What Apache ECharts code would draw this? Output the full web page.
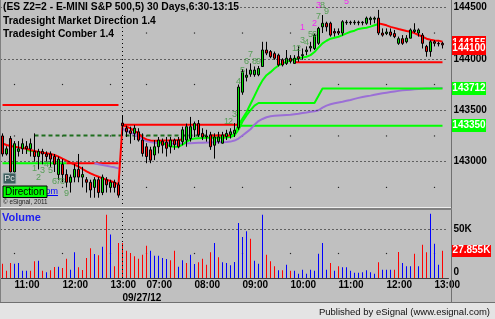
<!DOCTYPE html>
<html><head><meta charset="utf-8">
<script src="https://cdn.jsdelivr.net/npm/echarts@6/dist/echarts.min.js"></script>
<style>html,body{margin:0;padding:0;background:#C0C0C0;}#c{width:495px;height:319px;}</style>
</head><body><div id="c"></div>
<script>
// ---------------- data ----------------
const day1Start = '10:45', day1Bars = 30;
const day2Start = '06:30', day2Bars = 81;
const dateLabel = '09/27/12';
const priceTicks = [143000, 143500, 144000, 144500];
const priceMinorLevels = [142750, 143250, 143750, 144250];
const volTicks = [0, 50000];
const volMinorLevels = [25000];
const N_ = (k) => new Array(k).fill(null);

const open = [143250,143075,143225,142900,143100,143125,143150,143125,143100,143050,
143100,143075,143075,143050,142875,142975,142875,142800,142850,142925,
142850,142825,142800,142750,142825,142700,142825,142750,142800,142775,
143375,143325,143300,143275,143290,143210,143145,143115,143065,143145,
143200,143190,143145,143210,143210,143195,143210,143225,143310,143370,
143275,143250,143260,143160,143195,143180,143245,143265,143275,143330,
143675,143820,143850,143845,143845,143925,144085,144070,144050,144035,
143990,143955,144005,143955,144020,144030,144070,144105,144100,144150,
144310,144345,144345,144265,144265,144250,144350,144355,144350,144355,
144350,144345,144380,144385,144395,144250,144245,144260,144245,144150,
144195,144165,144200,144265,144250,144230,144120,144070,144165,144150,
144150];
const high = [143275,143150,143250,143200,143200,143225,143200,143225,143275,143125,
143125,143100,143100,143075,143050,143025,142925,142875,142975,143075,
142950,142850,142825,142850,142850,142875,142850,142825,142825,142800,
143450,143350,143340,143355,143325,143275,143180,143145,143210,143240,
143225,143240,143240,143225,143240,143340,143370,143435,143390,143405,
143325,143310,143290,143275,143290,143290,143310,143325,143375,143750,
143900,143905,143955,143925,143930,144165,144165,144085,144070,144050,
144005,144085,144035,144035,144120,144100,144120,144165,144245,144310,
144425,144360,144360,144295,144295,144375,144375,144370,144375,144370,
144365,144410,144410,144410,144475,144295,144295,144295,144280,144215,
144230,144230,144295,144345,144295,144250,144135,144180,144180,144165,
144165];
const low = [143050,143060,142875,142875,143050,143075,143075,143050,143000,142925,
142975,143000,142950,142900,142825,142800,142750,142700,142800,142800,
142750,142700,142650,142650,142650,142675,142700,142700,142700,142650,
143250,143240,143175,143210,143195,143050,142985,142985,143015,143080,
143080,143050,143080,143115,143130,143160,143145,143195,143240,143240,
143210,143195,143115,143030,143175,143175,143210,143225,143240,143310,
143650,143780,143825,143825,143830,143920,144035,144005,143990,143925,
143925,143940,143955,143955,143970,143990,144035,144070,144085,144135,
144250,144265,144215,144215,144230,144225,144330,144330,144330,144325,
144325,144330,144330,144345,144230,144215,144230,144215,144200,144135,
144135,144150,144200,144250,144215,144100,144020,144020,144120,144120,
144100];
const close = [143075,143125,142900,143175,143125,143175,143125,143175,143050,143100,
143075,143050,143025,142975,143025,142875,142800,142850,142925,142850,
142875,142800,142725,142825,142700,142850,142775,142800,142750,142675,
143350,143290,143275,143325,143210,143080,143050,143015,143145,143210,
143160,143130,143210,143165,143145,143310,143340,143340,143370,143260,
143240,143240,143145,143240,143240,143260,143275,143290,143305,143725,
143875,143840,143890,143890,143905,144085,144055,144020,144005,143940,
143940,144005,143975,144005,144000,144040,144085,144120,144230,144295,
144345,144310,144230,144250,144250,144360,144355,144350,144355,144350,
144355,144395,144395,144395,144250,144230,144260,144230,144215,144195,
144150,144200,144280,144280,144280,144150,144070,144165,144150,144145,
144135];

const volume = [14600,7500,15300,14600,15300,7500,7500,7500,17000,17700,
7500,5800,7800,11200,11600,10200,19700,8500,26200,10900,
8200,20400,30300,24500,23100,32000,64600,44500,11900,35700,
35700,27900,25500,22100,19700,23800,33000,27900,22800,22800,
20400,19400,18000,27900,11600,18000,15300,23800,14300,16000,
19700,13600,26200,35700,21100,16000,15300,12900,16300,56100,
41800,47600,40100,17700,14600,64600,23800,17000,11900,7800,
7800,13600,7500,7500,4400,8500,4400,8500,7500,24800,
35700,8500,15300,7500,11900,10900,10900,7500,5400,5400,
5800,7800,5800,4400,16000,8500,8500,8500,8500,26500,
15300,11900,11900,24800,11900,34000,26200,65600,35000,13600,
27855];
// u = up volume bar, d = down volume bar
const volDir = 'ddduuuuddu'+'duddudduud'+'dddudududd'+'ddddddduuu'+'uudduuduud'+
  'ddduduuuuu'+'uuduuudddu'+'duduuuuuuu'+'uududuuuuu'+'uuuuduuudd'+'uuududduuu'+'d';

const comberUpper = [143178,143162,143152,143146,143139,143133,143126,143113,143104,143094,
143087,143081,143075,143065,143049,143029,143010,142990,142971,142951,
142929,142906,142887,142870,142854,142838,142825,142812,142796,142780,
143356,143340,143324,143300,143275,143236,143217,143207,143204,143204,
143205,143205,143207,143208,143210,143215,null,null,null,null,
null,null,143255,143255,143255,143255,143255,143255,null,null,
...N_(30),
null,null,null,null,144344,144335,144325,144310,144300,144289,
144280,144270,144263,144250,144231,144215,144195,144185,144178,144176,
144166];
const comberLower = [null,null,null,null,null,null,143110,143105,143100,null,
...N_(20),
...N_(9),143195,
143180,143165,143150,143145,143145,143165,143195,143215,143225,143228,
143230,143232,143233,143233,143233,143233,143235,143243,143270,143357,
143420,143480,143560,143640,143720,143790,143840,143870,143905,143935,
143955,143970,143985,143995,144005,144012,144020,144035,144065,144110,
144150,144175,144195,144205,144214,144230,144247,144262,144273,144290,
144296,144302,144312,144325,144338,null,null,null,null,null,
...N_(11)];
const stepLine = [...N_(57),143240,143255,143310,
143390,143450,143500,143545,143570,143570,143570,143570,143570,143570,
143570,143570,143570,143570,143570,143570,143570,143570,143570,143640,
143712,143712,143712,143712,143712,143712,143712,143712,143712,143712,
143712,143712,143712,143712,143712,143712,143712,143712,143712,143712,
143712,143712,143712,143712,143712,143712,143712,143712,143712,143712,
143712];
const purple = [...N_(23),142984,142975,142968,142960,142952,142945,142935,
143320,143300,143282,143262,143242,143220,143200,143190,143185,143182,
143180,143178,143176,143175,143175,143176,143178,143180,143182,143184,
143185,143186,143187,143188,143189,143190,143192,143195,143205,143225,
143255,143285,143315,143360,143395,143415,143432,143442,143446,143449,
143451,143453,143455,143460,143465,143472,143478,143485,143490,143500,
143525,143545,143558,143568,143576,143583,143592,143600,143610,143620,
143628,143635,143642,143650,143657,143664,143670,143676,143682,143688,
143693,143697,143700,143703,143706,143708,143710,143712,143713,143714,
143715];

// horizontal levels: [fromBar, toBar, price]
const prevLevels = [[0, 29, 143550], [73, 110, 143965]];
const dirUpLevels = [[0, 16, 142985], [59, 110, 143350]];
const dirDownLevels = [[16, 29, 142985], [30, 59, 143358]];
const pivotLevel = [8, 58, 143255];

// bar counts
const countBar = [8,9,10,11,12,13,14,15,16, 56,57,58,59,60,61,62,63,64, 73,74,75,76,77,78,79,80,81, 75,78,79,86];
const countPrice = [142938,142842,142919,142968,142919,142812,142812,142812,142686,
  143389,143389,143454,143777,143881,143978,144037,143978,143978,
  144102,144102,144176,144160,144235,144240,144415,144513,144457,
  144306,144345,144522,144554];
const countText = ['1','2','3','4','5','6','7','8','9','1','2','3','4','5','6','7','8','9','1','2','3','4','5','6','7','8','9','1','2','3','5'];
const countKind = 'ggggggggg'+'ggggggggg'+'ggggggggg'+'mmmm';

const priceTags = [144155, 144100, 143712, 143350];
const priceTagKind = 'dduu';
const volTag = 27855;

// ---------------- chart ----------------
const FONT = '"Liberation Sans", Arial, sans-serif';
const cats = [];
function pushTimes(start, n) {
  let [h, m] = start.split(':').map(Number);
  for (let k = 0; k < n; k++) {
    cats.push(String(h).padStart(2, '0') + ':' + String(m).padStart(2, '0'));
    m += 5; if (m >= 60) { m -= 60; h++; }
  }
}
pushTimes(day1Start, day1Bars); pushTimes(day2Start, day2Bars); cats.push('');
const hourIdx = cats.map((c, i) => c.endsWith(':00') ? i : -1).filter(i => i >= 0);
const dayStartIdx = day1Bars;

const RED = '#FF0000', GREEN = '#00FF00', PURPLE = '#9B6FD6';
const dotted = { color: '#000', type: [1, 3], width: 1 };

function levelSeries(levels, color, extra) {
  return levels.map(l => Object.assign({
    type: 'line', xAxisIndex: 0, yAxisIndex: 0, symbol: 'none', z: 3, silent: true,
    lineStyle: { color: color, width: 2 },
    data: [[l[0], l[2]], [l[1], l[2]]]
  }, extra || {}));
}
function curve(values, color, mask) {
  return {
    type: 'line', xAxisIndex: 0, yAxisIndex: 0, symbol: 'none', z: 3, silent: true,
    connectNulls: false,
    lineStyle: { color: color, width: 2 },
    data: values.map((v, i) => (mask && !mask(i)) ? null : v)
  };
}

const series = [];
// candles
series.push({
  type: 'candlestick', xAxisIndex: 0, yAxisIndex: 0, z: 5, barWidth: 3,
  data: open.map((o, i) => [o, close[i], low[i], high[i]]),
  itemStyle: { color: '#00E000', color0: RED, borderColor: '#000', borderColor0: '#000', borderWidth: 1 },
  markLine: {
    silent: true, symbol: ['none', 'none'], label: { show: false }, animation: false,
    lineStyle: dotted,
    data: priceTicks.map(v => ({ yAxis: v })).concat([{ xAxis: cats[dayStartIdx] }])
  }
});
// minor grid dots
const dotData = [];
hourIdx.forEach(i => priceMinorLevels.forEach(p => dotData.push([i, p])));
series.push({ type: 'scatter', xAxisIndex: 0, yAxisIndex: 0, symbol: 'rect', symbolSize: 1.2, z: 1,
  itemStyle: { color: '#000' }, data: dotData, silent: true });
const vdotData = [];
hourIdx.forEach(i => volMinorLevels.forEach(p => vdotData.push([i, p])));
series.push({ type: 'scatter', xAxisIndex: 1, yAxisIndex: 1, symbol: 'rect', symbolSize: 1.2, z: 1,
  itemStyle: { color: '#000' }, data: vdotData, silent: true });

// levels
levelSeries(prevLevels, RED).forEach(s => series.push(s));
levelSeries(dirUpLevels, GREEN).forEach(s => series.push(s));
levelSeries(dirDownLevels, RED).forEach(s => series.push(s));
series.push({
  type: 'line', xAxisIndex: 0, yAxisIndex: 0, symbol: 'none', z: 3, silent: true,
  lineStyle: { color: '#1E6E1E', width: 2, type: [4, 3] },
  data: [[pivotLevel[0], pivotLevel[2]], [pivotLevel[1], pivotLevel[2]]]
});
// curves
series.push(curve(purple, PURPLE, i => i < dayStartIdx));
series.push(curve(purple, PURPLE, i => i >= dayStartIdx));
series.push(curve(stepLine, GREEN));
series.push(curve(comberLower, GREEN));
series.push(curve(comberUpper, RED));

// count labels
series.push({
  type: 'scatter', xAxisIndex: 0, yAxisIndex: 0, z: 8, silent: true,
  symbol: 'circle', symbolSize: 1, itemStyle: { color: 'rgba(0,0,0,0)' },
  data: countBar.map((b, k) => ({
    value: [b, countPrice[k]],
    label: { color: countKind[k] === 'm' ? '#FF00FF' : '#3C963C' }
  })),
  label: { show: true, position: 'inside', fontSize: 9, fontFamily: FONT,
    formatter: p => countText[p.dataIndex] }
});

// volume
series.push({
  type: 'bar', xAxisIndex: 1, yAxisIndex: 1, barWidth: 1, z: 3,
  data: volume.map((v, i) => ({ value: v, itemStyle: { color: volDir[i] === 'u' ? '#0000FF' : RED } })),
  markLine: {
    silent: true, symbol: ['none', 'none'], label: { show: false }, animation: false,
    lineStyle: dotted,
    data: [{ yAxis: 50000 }, { xAxis: cats[dayStartIdx] }]
  }
});

const axisFont = { color: '#000', fontWeight: 'bold', fontSize: 10, fontFamily: FONT };

const option = {
  backgroundColor: '#C0C0C0',
  animation: false,
  grid: [
    { left: 0.5, top: 0, width: 448, height: 208 },
    { left: 0.5, top: 210, width: 448, height: 68 }
  ],
  xAxis: [
    { type: 'category', gridIndex: 0, data: cats, boundaryGap: true,
      axisLine: { show: false }, axisTick: { show: false }, axisLabel: { show: false }, splitLine: { show: false } },
    { type: 'category', gridIndex: 1, data: cats, boundaryGap: true,
      axisLine: { show: true, lineStyle: { color: '#404040', width: 1 } }, axisTick: { show: false },
      splitLine: { show: false },
      axisLabel: Object.assign({
        interval: (idx) => hourIdx.indexOf(idx) >= 0 || idx === dayStartIdx,
        formatter: (val, idx) => idx === dayStartIdx ? '\n' + dateLabel : val,
        align: 'left', margin: 1, lineHeight: 12.5
      }, axisFont) }
  ],
  yAxis: [
    { type: 'value', gridIndex: 0, position: 'right', min: 142550, max: 144571,
      axisLine: { show: false }, axisTick: { show: false }, splitLine: { show: false },
      axisLabel: Object.assign({ customValues: priceTicks, margin: 5, formatter: v => String(v) }, axisFont) },
    { type: 'value', gridIndex: 1, position: 'right', min: 0, max: 69400,
      axisLine: { show: false }, axisTick: { show: false }, splitLine: { show: false },
      axisLabel: Object.assign({ customValues: volTicks, margin: 5,
        formatter: v => v === 0 ? '{z|0}' : (v / 1000) + 'K',
        rich: { z: { padding: [0, 0, 12, 0], color: '#000', fontWeight: 'bold', fontSize: 10, fontFamily: FONT } }
      }, axisFont) }
  ],
  series: series
};

const chart = echarts.init(document.getElementById('c'), null, { renderer: 'canvas', width: 495, height: 319 });
chart.setOption(option);

// ---------------- decorations ----------------
const g = [];
function txt(x, y, text, font, fill, align, extra) {
  g.push(Object.assign({ type: 'text', x: x, y: y, z: 100, silent: true,
    style: { text: text, font: font, fill: fill, align: align || 'left', verticalAlign: 'middle' } }, extra || {}));
}
function line(x1, y1, x2, y2, stroke, w, z) {
  g.push({ type: 'line', z: z || 100, silent: true, shape: { x1, y1, x2, y2 }, style: { stroke, lineWidth: w || 1 } });
}
function rect(x, y, w, h, fill, stroke, z) {
  g.push({ type: 'rect', z: z || 100, silent: true, shape: { x, y, width: w, height: h },
    style: { fill, stroke: stroke || null, lineWidth: 1 } });
}
// frame
line(0.5, 0, 0.5, 303, '#808080');
line(451.5, 0, 451.5, 303, '#707070');
line(0, 207.5, 451, 207.5, '#EEEEEE');
line(0, 209, 452, 209, '#808080', 2);
rect(0, 303, 495, 16, '#E4E4E4');
line(0, 302.5, 495, 302.5, '#707070');
txt(490, 312, 'Published by eSignal (www.esignal.com)', '9.5px ' + FONT, '#101010', 'right');

// titles
const titleFont = 'bold 10.3px ' + FONT;
[['(ES Z2=2 - E-MINI S&P 500,5) 30 Days,6:30-13:15', 7.5],
 ['Tradesight Market Direction 1.4', 21],
 ['Tradesight Comber 1.4', 34]].forEach(t => {
  g.push({ type: 'text', x: 2, y: t[1], z: 100, silent: true,
    style: { text: t[0], font: titleFont, fill: '#000', align: 'left', verticalAlign: 'middle',
      backgroundColor: '#C0C0C0', padding: [0, 1, 0, 1] } });
});
txt(2, 218, 'Volume', 'bold 11px ' + FONT, '#2020EE');

// overlays bottom-left
txt(58, 191.5, 'eSignal.com', '9px ' + FONT, '#0000FF', 'right', { z: 99 });
line(44, 195.5, 58, 195.5, '#0000FF', 1, 99);
rect(3, 173, 13, 11, '#3E5E5E', '#A8B8B8');
txt(9.5, 178.5, 'Pc', '9px ' + FONT, '#E8E8E8', 'center');
rect(3, 186, 44, 11.5, '#00FF00', '#000');
txt(5, 191.8, 'Direction', '10px ' + FONT, '#000');
txt(3, 202, '\u00A9 eSignal, 2011', '6.3px ' + FONT, '#202020');

// price tags
priceTags.forEach((v, k) => {
  const y = chart.convertToPixel({ yAxisIndex: 0 }, v);
  rect(452, Math.round(y - 6.5), 34, 13, priceTagKind[k] === 'd' ? RED : '#00FF00');
  txt(469, y, String(v), 'bold 10px ' + FONT, '#FFFFFF', 'center');
});
{
  const y = chart.convertToPixel({ yAxisIndex: 1 }, volTag);
  rect(452, Math.round(y - 6), 39, 12, RED);
  txt(471.5, y, (volTag / 1000).toFixed(3) + 'K', 'bold 10px ' + FONT, '#FFFFFF', 'center');
}
chart.setOption({ graphic: g });
</script>
</body></html>
